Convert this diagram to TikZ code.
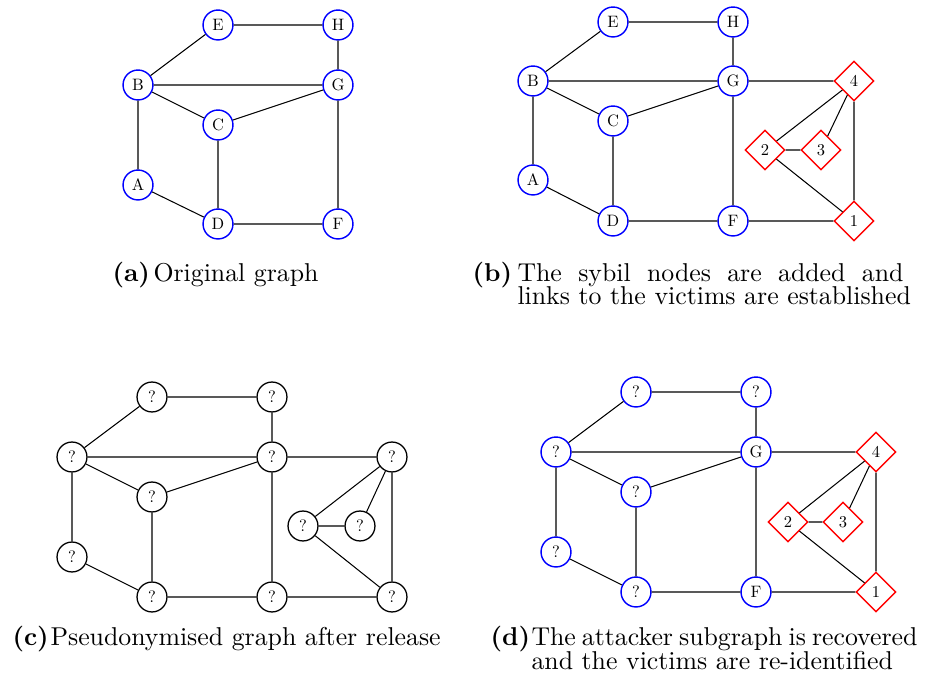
\documentclass[tikz,border=0pt]{standalone}
\usepackage{graphicx}
\usetikzlibrary{shapes.geometric}
% vertex labels: the 10pt design scaled down
\newcommand\nlab[1]{\scalebox{0.64}{#1}}
\begin{document}
\begin{tikzpicture}[x=0.3876pt, y=-0.3876pt,
  vb/.style={circle, draw=blue, line width=0.55pt, minimum size=11.6pt, inner sep=0pt},
  vk/.style={circle, draw=black, line width=0.5pt, minimum size=11.6pt, inner sep=0pt},
  sy/.style={diamond, aspect=1, draw=red, line width=0.55pt, minimum size=15.4pt, inner sep=0pt},
  edge/.style={draw=black, line width=0.4pt},
  captext/.style={anchor=base west, inner sep=0pt, font=\normalsize},
  caplab/.style={anchor=base west, inner sep=0pt, font=\normalsize\bfseries}]
\useasboundingbox (0,0) rectangle (926,683);

% ---------- (a) original graph ----------
\node[vb] (aE) at (218,25) {\nlab{E}};
\node[vb] (aH) at (338,25) {\nlab{H}};
\node[vb] (aB) at (138,85) {\nlab{B}};
\node[vb] (aG) at (338,85) {\nlab{G}};
\node[vb] (aC) at (218,125) {\nlab{C}};
\node[vb] (aA) at (138,185) {\nlab{A}};
\node[vb] (aD) at (218,224) {\nlab{D}};
\node[vb] (aF) at (338,224) {\nlab{F}};
\path[edge] (aE) -- (aH) (aB) -- (aE) (aB) -- (aG) (aH) -- (aG)
  (aB) -- (aC) (aC) -- (aG) (aB) -- (aA) (aA) -- (aD)
  (aC) -- (aD) (aD) -- (aF) (aG) -- (aF);

% ---------- (b) sybil nodes added ----------
\node[vb] (bE) at (613,22) {\nlab{E}};
\node[vb] (bH) at (733,22) {\nlab{H}};
\node[vb] (bB) at (533,81) {\nlab{B}};
\node[vb] (bG) at (733,81) {\nlab{G}};
\node[vb] (bC) at (613,121) {\nlab{C}};
\node[vb] (bA) at (533,180) {\nlab{A}};
\node[vb] (bD) at (613,221) {\nlab{D}};
\node[vb] (bF) at (733,221) {\nlab{F}};
\node[sy] (b4) at (854,81) {\nlab{4}};
\node[sy] (b2) at (765,150) {\nlab{2}};
\node[sy] (b3) at (821,150) {\nlab{3}};
\node[sy] (b1) at (854,221) {\nlab{1}};
\path[edge] (bE) -- (bH) (bB) -- (bE) (bB) -- (bG) (bH) -- (bG)
  (bB) -- (bC) (bC) -- (bG) (bB) -- (bA) (bA) -- (bD)
  (bC) -- (bD) (bD) -- (bF) (bG) -- (bF)
  (bG) -- (b4) (b4) -- (b2) (b4) -- (b3) (b4) -- (b1)
  (b2) -- (b3) (b2) -- (b1) (bF) -- (b1);

% ---------- (c) pseudonymised graph ----------
\node[vk] (cE) at (152,397) {\nlab{?}};
\node[vk] (cH) at (272,397) {\nlab{?}};
\node[vk] (cB) at (72,457) {\nlab{?}};
\node[vk] (cG) at (272,457) {\nlab{?}};
\node[vk] (c4) at (392,457) {\nlab{?}};
\node[vk] (cC) at (152,497) {\nlab{?}};
\node[vk] (c2) at (303,526) {\nlab{?}};
\node[vk] (c3) at (360,526) {\nlab{?}};
\node[vk] (cA) at (72,557) {\nlab{?}};
\node[vk] (cD) at (152,597) {\nlab{?}};
\node[vk] (cF) at (272,597) {\nlab{?}};
\node[vk] (c1) at (392,597) {\nlab{?}};
\path[edge] (cE) -- (cH) (cB) -- (cE) (cB) -- (cG) (cH) -- (cG)
  (cB) -- (cC) (cC) -- (cG) (cB) -- (cA) (cA) -- (cD)
  (cC) -- (cD) (cD) -- (cF) (cG) -- (cF)
  (cG) -- (c4) (c4) -- (c2) (c4) -- (c3) (c4) -- (c1)
  (c2) -- (c3) (c2) -- (c1) (cF) -- (c1);

% ---------- (d) re-identification ----------
\node[vb] (dE) at (636,392) {\nlab{?}};
\node[vb] (dH) at (756,392) {\nlab{?}};
\node[vb] (dB) at (556,452) {\nlab{?}};
\node[vb] (dG) at (756,452) {\nlab{G}};
\node[vb] (dC) at (636,492) {\nlab{?}};
\node[vb] (dA) at (556,552) {\nlab{?}};
\node[vb] (dD) at (636,592) {\nlab{?}};
\node[vb] (dF) at (756,592) {\nlab{F}};
\node[sy] (d4) at (876,452) {\nlab{4}};
\node[sy] (d2) at (788,522) {\nlab{2}};
\node[sy] (d3) at (843,522) {\nlab{3}};
\node[sy] (d1) at (876,592) {\nlab{1}};
\path[edge] (dE) -- (dH) (dB) -- (dE) (dB) -- (dG) (dH) -- (dG)
  (dB) -- (dC) (dC) -- (dG) (dB) -- (dA) (dA) -- (dD)
  (dC) -- (dD) (dD) -- (dF) (dG) -- (dF)
  (dG) -- (d4) (d4) -- (d2) (d4) -- (d3) (d4) -- (d1)
  (d2) -- (d3) (d2) -- (d1) (dF) -- (d1);

% ---------- captions ----------
\node[caplab] (la) at (112,282) {(a)};
\node[captext] (ta) at (153,282) {Original graph};

\node[caplab] (lb) at (472,282) {(b)};
\node[captext] (tb1) at (517,282) {\makebox[149.6pt][s]{The sybil nodes are added and}};
\node[captext] (tb2) at (517,305) {links to the victims are established};

\node[caplab] (lc) at (12,646) {(c)};
\node[captext] (tc) at (50,646) {Pseudonymised graph after release};

\node[caplab] (ld) at (490,646) {(d)};
\node[captext] (td1) at (531,646) {\makebox[149.6pt][s]{The attacker subgraph is recovered}};
\node[captext] (td2) at (531,670) {and the victims are re-identified};
\end{tikzpicture}
\end{document}
